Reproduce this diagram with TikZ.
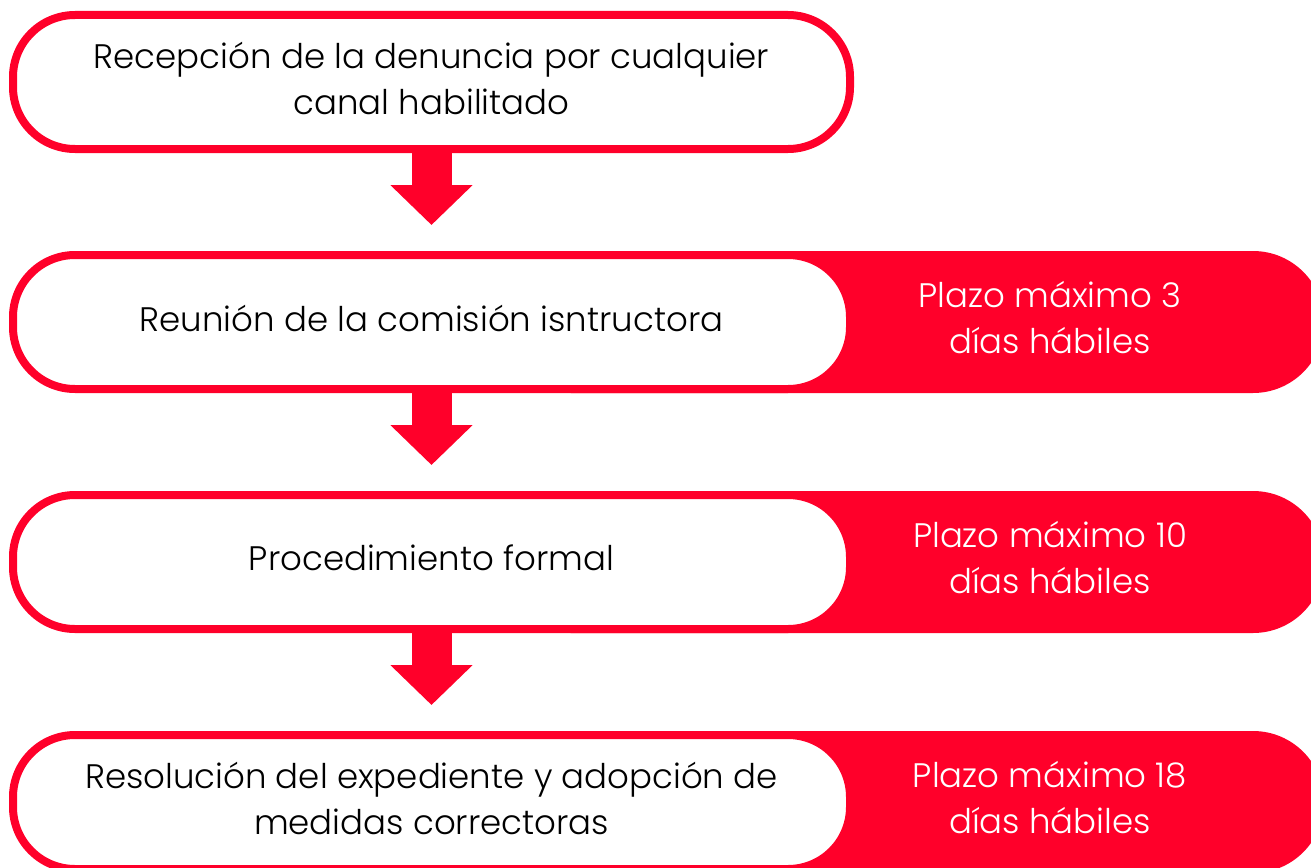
\documentclass[tikz,border=0pt]{standalone}
\usepackage{fontspec}
\setmainfont{Poppins}[UprightFont=* Light]
\usetikzlibrary{arrows.meta,calc}
\definecolor{brandred}{RGB}{255,0,42}
\tikzset{
  whitebox/.style={draw=brandred, line width=8pt, fill=white, rounded corners=62pt,
    minimum width=837pt, minimum height=134pt, inner sep=0pt},
  boxtext/.style={align=center, text=black, font=\fontsize{34}{46}\selectfont},
  redpill/.style={fill=brandred, draw=none, rounded corners=71pt,
    minimum width=824pt, minimum height=142pt, inner sep=0pt, outer sep=0pt},
  redtext/.style={text=white, align=center, font=\fontsize{34}{46}\selectfont},
  downarrow/.style={draw=brandred, line width=40pt,
    -{Triangle[width=80pt,length=40pt]}}
}
\begin{document}
\begin{tikzpicture}[x=1pt,y=-1pt]
\clip (0,0) rectangle (1311,867);
\fill[white] (0,0) rectangle (1311,867);
% red pills
\node[redpill] (r2) at (912,322) {};
\node[redpill] (r3) at (912,562) {};
\node[redpill] (r4) at (912,802) {};
% white boxes
\node[whitebox] (b1) at (431.5,82) {};
\node[whitebox] (b2) at (431.5,322) {};
\node[whitebox] (b3) at (431.5,562) {};
\node[whitebox] (b4) at (431.5,802) {};
\node[boxtext] (l1) at ($(b1.center)+(0,-4)$) {Recepción de la denuncia por cualquier\\canal habilitado};
\node[boxtext] (l2) at ($(b2.center)+(0,-4)$) {Reunión de la comisión isntructora};
\node[boxtext] (l3) at ($(b3.center)+(0,-4)$) {Procedimiento formal};
\node[boxtext] (l4) at ($(b4.center)+(0,-4)$) {Resolución del expediente y adopción de\\medidas correctoras};
% red texts
\node[redtext] (t2) at (1050,318) {Plazo máximo 3\\días hábiles};
\node[redtext] (t3) at (1050,558) {Plazo máximo 10\\días hábiles};
\node[redtext] (t4) at (1050,798) {Plazo máximo 18\\días hábiles};
% arrows
\draw[downarrow] (b1.south) -- ($(b2.north)+(0,-26)$);
\draw[downarrow] (b2.south) -- ($(b3.north)+(0,-26)$);
\draw[downarrow] (b3.south) -- ($(b4.north)+(0,-26)$);
\end{tikzpicture}
\end{document}
